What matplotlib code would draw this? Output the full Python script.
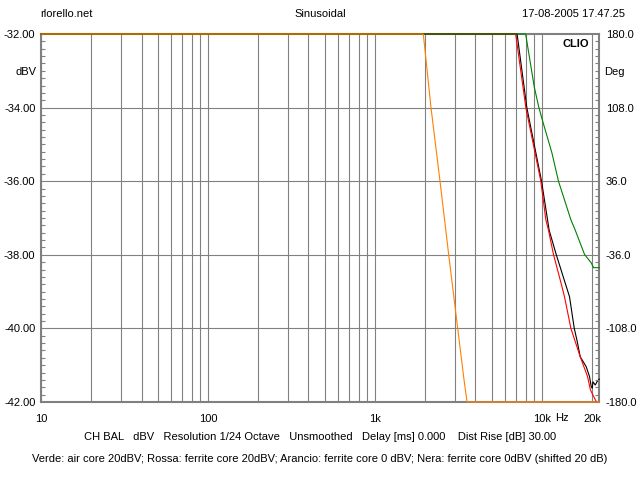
import numpy as np
import matplotlib
matplotlib.use("Agg")
import matplotlib.pyplot as plt
from matplotlib.ticker import FixedLocator, MultipleLocator, NullFormatter

plt.rcParams["font.family"] = ["Liberation Sans", "DejaVu Sans"]

# ── data (freq in Hz, level in dBV) ─────────────────────────────────────────
orange_f = [10, 1950, 2168, 2455, 2768, 3134, 3420, 3565, 22000]
orange_v = [-32, -32, -34.0, -36.0, -38.0, -40.0, -41.4, -42, -42]

green_f = [10, 8000, 9000, 9590, 10090, 11490, 12580, 14930, 15850,
           18020, 19770, 20410, 22080]
green_v = [-32, -32, -33.43, -33.99, -34.35, -35.23, -36.0, -37.05, -37.33,
           -37.99, -38.22, -38.35, -38.35]

red_f = [10, 6970, 8020, 9860, 10570, 10960, 11740, 12880, 13670, 14930,
         16980, 18790, 19540, 21230]
red_v = [-32, -32, -34.0, -36.0, -37.05, -37.33, -37.99, -38.68, -39.14, -40.0,
         -40.77, -41.31, -41.67, -42]

black_f = [10, 7110, 8130, 9960, 10820, 11060, 12190, 13610, 14650, 15640,
           16230, 16980, 18440, 19300, 19760, 20050, 20230, 20900, 21390, 22080]
black_v = [-32, -32, -34.0, -36.0, -37.05, -37.33, -37.99, -38.68, -39.14, -40.0,
           -40.32, -40.77, -41.04, -41.31, -41.58, -41.63, -41.45, -41.54, -41.45, -41.38]

xticks = [10, 100, 1000, 10000, 20000]
xtick_labels = ["10", "100", "1k", "10k", "20k"]
left_ticks = [-32, -34, -36, -38, -40, -42]
right_ticks = [180, 108, 36, -36, -108, -180]

grey = "#808080"

fig = plt.figure(figsize=(6.4, 4.8), dpi=100)
ax = fig.add_axes([41/640, 1-402/480, (599-41)/640, (402-34)/480])
ax.set_xscale("log")
ax.set_xlim(10, 22000)
ax.set_ylim(-42, -32)

# grid: every 1-2-...-9 decade line
grid_f = [m * 10**d for d in range(1, 5) for m in range(1, 10) if m * 10**d <= 20000]
for f in grid_f:
    ax.axvline(f, color=grey, lw=0.8, zorder=1)
for v in left_ticks[1:-1]:
    ax.axhline(v, color=grey, lw=0.8, zorder=1)

kw = dict(lw=0.8, clip_on=False, solid_joinstyle="miter")
ax.plot(black_f, black_v, color="black", zorder=3, **kw)
ax.plot(red_f, red_v, color="#ff0000", zorder=4, **kw)
ax.plot(green_f, green_v, color="#008000", zorder=5, **kw)
ax.plot(orange_f, orange_v, color="#ff8000", zorder=6, **kw)

for s in ax.spines.values():
    s.set_color(grey)
    s.set_linewidth(1.5)
    s.set_zorder(2)

ax.xaxis.set_major_locator(FixedLocator(xticks))
ax.set_xticklabels(xtick_labels)
ax.xaxis.set_minor_formatter(NullFormatter())
ax.tick_params(axis="x", which="both", length=0, labelsize=8, pad=9)

ax.yaxis.set_major_locator(FixedLocator(left_ticks))
ax.set_yticklabels([f"{v:.2f}" for v in left_ticks])
ax.yaxis.set_minor_locator(MultipleLocator(0.2))
ax.tick_params(axis="y", which="major", length=0, labelsize=8, pad=4)
ax.tick_params(axis="y", which="minor", direction="in", length=3, width=0.8, color=grey)

ax2 = ax.twinx()
ax2.set_ylim(-180, 180)
ax2.yaxis.set_major_locator(FixedLocator(right_ticks))
ax2.set_yticklabels([f"{v:.1f}" for v in right_ticks])
ax2.yaxis.set_minor_locator(MultipleLocator(7.2))
ax2.tick_params(axis="y", which="major", length=0, labelsize=8, pad=5)
ax2.tick_params(axis="y", which="minor", direction="in", length=3, width=0.8, color=grey)
for s in ax2.spines.values():
    s.set_visible(False)

fig.text(36/640, 1-72/480, "dBV", ha="right", va="center", fontsize=8)
fig.text(604/640, 1-72/480, "Deg", ha="left", va="center", fontsize=8)
fig.text(589/640, 1-44/480, "CLIO", ha="right", va="center", fontsize=8, weight="bold")
fig.text(555/640, 1-418/480, "Hz", ha="left", va="center", fontsize=8)

fig.text(40/640, 1-14/480, "rlorello.net", ha="left", va="center", fontsize=8)
fig.text(320/640, 1-14/480, "Sinusoidal", ha="center", va="center", fontsize=8)
fig.text(625/640, 1-14/480, "17-08-2005 17.47.25", ha="right", va="center", fontsize=8)

fig.text(320/640, 1-437/480,
         "CH BAL   dBV   Resolution 1/24 Octave   Unsmoothed   Delay [ms] 0.000    Dist Rise [dB] 30.00",
         ha="center", va="center", fontsize=8)
fig.text(320/640, 1-459/480,
         "Verde: air core 20dBV; Rossa: ferrite core 20dBV; Arancio: ferrite core 0 dBV; "
         "Nera: ferrite core 0dBV (shifted 20 dB)",
         ha="center", va="center", fontsize=8)

fig.savefig("out.png", dpi=100)
